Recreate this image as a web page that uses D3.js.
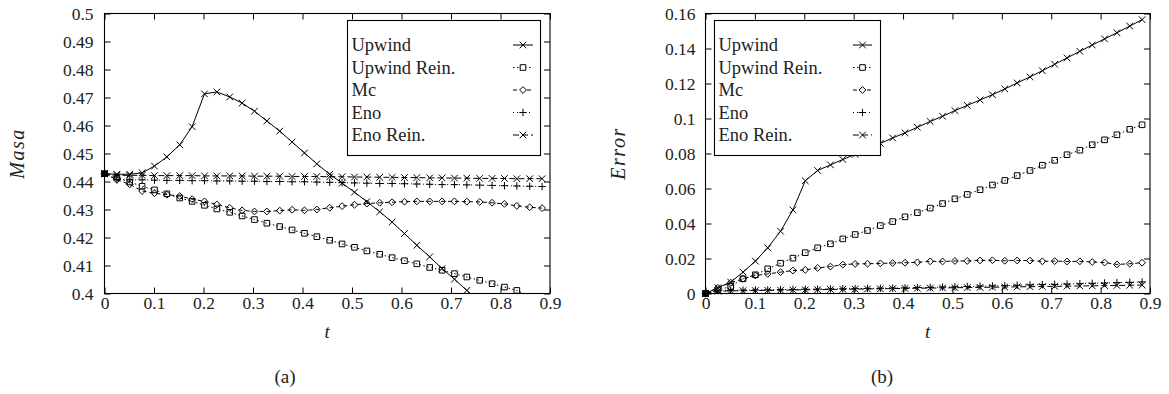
<!DOCTYPE html>
<html>
<head>
<meta charset="utf-8">
<script src="https://cdn.jsdelivr.net/npm/d3@7"></script>
<style>
  body { margin: 0; background: #fff; }
  svg text { font-family: "Liberation Serif", "Times New Roman", serif; fill: #222; }
</style>
</head>
<body>
<svg id="chart" width="1169" height="394"></svg>
<script>
// time samples (same for every series)
const times = [0, 0.025, 0.051, 0.076, 0.101, 0.126, 0.152, 0.177, 0.202, 0.227, 0.253, 0.278,
  0.303, 0.328, 0.354, 0.379, 0.404, 0.429, 0.455, 0.48, 0.505, 0.53, 0.556, 0.581,
  0.606, 0.631, 0.657, 0.682, 0.707, 0.732, 0.758, 0.783, 0.808, 0.833, 0.859, 0.884];

const seriesNames = ["Upwind", "Upwind Rein.", "Mc", "Eno", "Eno Rein."];

// (a) Masa
const masaUpwind = [0.4428, 0.4426, 0.4426, 0.4431, 0.4455, 0.4488, 0.4531, 0.4596, 0.4713, 0.4720, 0.4702, 0.4680,
  0.4651, 0.4616, 0.4580, 0.4541, 0.4502, 0.4463, 0.4426, 0.4394, 0.4362, 0.4328, 0.4292, 0.4255,
  0.4214, 0.4172, 0.4131, 0.4089, 0.4051, 0.4011, 0.3972, 0.3933, 0.3894, 0.3855, 0.3816, 0.3777];
const masaUpwindRein = [0.4428, 0.4415, 0.4398, 0.4383, 0.4370, 0.4356, 0.4341, 0.4329, 0.4315, 0.4302, 0.4290, 0.4277,
  0.4264, 0.4251, 0.4239, 0.4227, 0.4215, 0.4203, 0.4190, 0.4177, 0.4165, 0.4152, 0.4140, 0.4128,
  0.4117, 0.4106, 0.4093, 0.4083, 0.4071, 0.4059, 0.4047, 0.4035, 0.4023, 0.4011, 0.3988, 0.3976];
const masaMc = [0.4428, 0.4406, 0.4390, 0.4366, 0.4358, 0.4353, 0.4348, 0.4337, 0.4329, 0.4318, 0.4306, 0.4297,
  0.4293, 0.4293, 0.4296, 0.4299, 0.4297, 0.4300, 0.4306, 0.4312, 0.4317, 0.4321, 0.4324, 0.4326,
  0.4328, 0.4329, 0.4329, 0.4329, 0.4329, 0.4328, 0.4327, 0.4324, 0.4320, 0.4313, 0.4308, 0.4305];
const masaEno = [0.4428, 0.4407, 0.4406, 0.4406, 0.4405, 0.4404, 0.4404, 0.4403, 0.4403, 0.4402, 0.4402, 0.4401,
  0.4401, 0.4400, 0.4400, 0.4399, 0.4399, 0.4398, 0.4397, 0.4396, 0.4395, 0.4394, 0.4393, 0.4393,
  0.4392, 0.4391, 0.4390, 0.4389, 0.4389, 0.4388, 0.4387, 0.4386, 0.4385, 0.4384, 0.4383, 0.4382];
const masaEnoRein = [0.4428, 0.4422, 0.4422, 0.4422, 0.4421, 0.4421, 0.4421, 0.4421, 0.4420, 0.4420, 0.4420, 0.4420,
  0.4419, 0.4419, 0.4419, 0.4418, 0.4418, 0.4418, 0.4417, 0.4417, 0.4416, 0.4416, 0.4415, 0.4415,
  0.4414, 0.4414, 0.4413, 0.4413, 0.4412, 0.4412, 0.4411, 0.4411, 0.4411, 0.4410, 0.4410, 0.4410];

// (b) Error
const errUpwind = [0, 0.0033, 0.0065, 0.0122, 0.0185, 0.0261, 0.0356, 0.0478, 0.0644, 0.0703, 0.0735, 0.0766,
  0.0795, 0.0829, 0.0858, 0.0889, 0.0918, 0.0950, 0.0983, 0.1013, 0.1045, 0.1075, 0.1106, 0.1136,
  0.1169, 0.1203, 0.1238, 0.1273, 0.1310, 0.1346, 0.1384, 0.1420, 0.1455, 0.1490, 0.1528, 0.1565];
const errUpwindRein = [0, 0.0020, 0.0040, 0.0084, 0.0107, 0.0141, 0.0173, 0.0202, 0.0233, 0.0261, 0.0284, 0.0312,
  0.0337, 0.0360, 0.0388, 0.0411, 0.0438, 0.0462, 0.0488, 0.0514, 0.0541, 0.0566, 0.0593, 0.0620,
  0.0646, 0.0674, 0.0703, 0.0733, 0.0761, 0.0793, 0.0819, 0.0850, 0.0878, 0.0907, 0.0938, 0.0964];
const errMc = [0, 0.0033, 0.0062, 0.0084, 0.0103, 0.0112, 0.0122, 0.0131, 0.0135, 0.0146, 0.0154, 0.0165,
  0.0169, 0.0170, 0.0172, 0.0174, 0.0176, 0.0178, 0.0184, 0.0183, 0.0186, 0.0186, 0.0189, 0.0190,
  0.0187, 0.0189, 0.0188, 0.0184, 0.0185, 0.0183, 0.0184, 0.0180, 0.0177, 0.0166, 0.0170, 0.0176];
const errEno = [0, 0.0017, 0.0018, 0.0019, 0.0020, 0.0021, 0.0022, 0.0023, 0.0024, 0.0025, 0.0026, 0.0027,
  0.0028, 0.0029, 0.0030, 0.0031, 0.0032, 0.0034, 0.0035, 0.0037, 0.0038, 0.0040, 0.0042, 0.0043,
  0.0045, 0.0047, 0.0049, 0.0051, 0.0052, 0.0054, 0.0056, 0.0058, 0.0060, 0.0062, 0.0064, 0.0066];
const errEnoRein = [0, 0.0013, 0.0015, 0.0016, 0.0017, 0.0018, 0.0019, 0.0020, 0.0021, 0.0022, 0.0023, 0.0024,
  0.0025, 0.0026, 0.0027, 0.0028, 0.0029, 0.0030, 0.0031, 0.0032, 0.0033, 0.0034, 0.0035, 0.0036,
  0.0037, 0.0038, 0.0039, 0.0040, 0.0041, 0.0042, 0.0043, 0.0044, 0.0045, 0.0046, 0.0047, 0.0048];

const xTicks = [0, 0.1, 0.2, 0.3, 0.4, 0.5, 0.6, 0.7, 0.8, 0.9];
const masaTicks = [0.4, 0.41, 0.42, 0.43, 0.44, 0.45, 0.46, 0.47, 0.48, 0.49, 0.5];
const errTicks = [0, 0.02, 0.04, 0.06, 0.08, 0.1, 0.12, 0.14, 0.16];

// line style + marker per series
const styles = [
  { marker: "times", dash: null },
  { marker: "square", dash: "1.5,2.5" },
  { marker: "diamond", dash: "4,3" },
  { marker: "plus", dash: "1,3" },
  { marker: "times", dash: "6,3" }
];

function markerPath(type) {
  switch (type) {
    case "times": return "M-3.3,-3.3L3.3,3.3M-3.3,3.3L3.3,-3.3";
    case "plus": return "M-3.7,0L3.7,0M0,-3.7L0,3.7";
    case "square": return "M-2.8,-2.8H2.8V2.8H-2.8Z";
    case "diamond": return "M0,-3.4L3.4,0L0,3.4L-3.4,0Z";
  }
}

const svg = d3.select("#chart");
const fmt = d => String(+d.toFixed(2));

function drawPanel(cfg) {
  const { left, right, top, bottom } = cfg;
  const g = svg.append("g");

  const x = d3.scaleLinear().domain([0, 0.9]).range([left, right]);
  const y = d3.scaleLinear().domain(cfg.yDomain).range([bottom, top]);

  const clipId = "clip-" + cfg.id;
  g.append("clipPath").attr("id", clipId)
    .append("rect")
    .attr("x", left).attr("y", top)
    .attr("width", right - left).attr("height", bottom - top);

  // axes, ticks pointing inwards, mirrored on top/right
  const tk = 6;
  g.append("g").attr("transform", `translate(0,${bottom})`)
    .call(d3.axisBottom(x).tickValues(xTicks).tickSize(-tk).tickPadding(3).tickFormat(fmt));
  g.append("g").attr("transform", `translate(0,${top})`)
    .call(d3.axisTop(x).tickValues(xTicks).tickSize(-tk).tickFormat(""));
  g.append("g").attr("transform", `translate(${left},0)`)
    .call(d3.axisLeft(y).tickValues(cfg.yTicks).tickSize(-tk).tickPadding(cfg.yPad).tickFormat(fmt));
  g.append("g").attr("transform", `translate(${right},0)`)
    .call(d3.axisRight(y).tickValues(cfg.yTicks).tickSize(-tk).tickFormat(""));

  g.selectAll(".domain").remove();
  g.selectAll(".tick line").attr("stroke", "#000");
  g.selectAll(".tick text")
    .style("font-family", '"Liberation Serif", serif')
    .style("font-size", "17.5px")
    .attr("fill", "#222");

  g.append("rect")
    .attr("x", left).attr("y", top)
    .attr("width", right - left).attr("height", bottom - top)
    .attr("fill", "none").attr("stroke", "#000").attr("stroke-width", 1.1);

  // series
  cfg.series.forEach((vals, si) => {
    const st = styles[si];
    const pts = times.map((t, i) => ({ t: t, v: vals[i], i: i }));
    const line = d3.line().x(d => x(d.t)).y(d => y(d.v));
    g.append("path")
      .datum(pts)
      .attr("clip-path", `url(#${clipId})`)
      .attr("d", line)
      .attr("fill", "none")
      .attr("stroke", "#000")
      .attr("stroke-width", 1)
      .attr("stroke-dasharray", st.dash);

    g.selectAll(null)
      .data(pts.filter(d => d.v >= cfg.yDomain[0] && d.v <= cfg.yDomain[1]))
      .enter()
      .append("path")
      .attr("transform", d => `translate(${x(d.t)},${y(d.v)})`)
      .attr("d", markerPath(st.marker))
      .attr("fill", d => (st.marker === "square" && d.i === 0) ? "#000" : "#fff")
      .attr("fill-opacity", d => (st.marker === "square" && d.i === 0) ? 1 : 0)
      .attr("stroke", "#000")
      .attr("stroke-width", 1);
  });

  // legend
  const lg = cfg.legend;
  g.append("rect")
    .attr("x", lg.x).attr("y", lg.y)
    .attr("width", lg.w).attr("height", lg.h)
    .attr("fill", "#fff").attr("stroke", "#000").attr("stroke-width", 1.1);

  seriesNames.forEach((name, i) => {
    const cy = lg.y + 24.5 + i * 22.5;
    const st = styles[i];
    g.append("text")
      .attr("x", lg.x + 4)
      .attr("y", cy + 6)
      .style("font-size", "18.5px")
      .text(name);
    g.append("line")
      .attr("x1", lg.sx0).attr("x2", lg.sx1)
      .attr("y1", cy).attr("y2", cy)
      .attr("stroke", "#000")
      .attr("stroke-width", 1)
      .attr("stroke-dasharray", st.dash);
    g.append("path")
      .attr("transform", `translate(${(lg.sx0 + lg.sx1) / 2},${cy})`)
      .attr("d", markerPath(st.marker))
      .attr("fill", "#fff")
      .attr("stroke", "#000")
      .attr("stroke-width", 1);
  });

  // axis labels
  g.append("text")
    .attr("transform", `translate(${cfg.yLabelX},${(top + bottom) / 2}) rotate(-90)`)
    .attr("text-anchor", "middle")
    .style("font-size", "20px")
    .style("font-style", "italic")
    .style("letter-spacing", "1.5px")
    .text(cfg.yLabel);

  g.append("text")
    .attr("x", (left + right) / 2)
    .attr("y", 338)
    .attr("text-anchor", "middle")
    .style("font-size", "19px")
    .style("font-style", "italic")
    .text("t");

  g.append("text")
    .attr("x", cfg.captionX)
    .attr("y", 383)
    .attr("text-anchor", "middle")
    .style("font-size", "19px")
    .text(cfg.caption);
}

drawPanel({
  id: "a", left: 104.5, right: 550, top: 13.5, bottom: 293.5,
  yDomain: [0.4, 0.5], yTicks: masaTicks, yPad: 11,
  series: [masaUpwind, masaUpwindRein, masaMc, masaEno, masaEnoRein],
  legend: { x: 347.5, y: 20.5, w: 193, h: 135, sx0: 513, sx1: 533 },
  yLabel: "Masa", yLabelX: 24, caption: "(a)", captionX: 285
});

drawPanel({
  id: "b", left: 705.5, right: 1150, top: 13.5, bottom: 293.5,
  yDomain: [0, 0.16], yTicks: errTicks, yPad: 10,
  series: [errUpwind, errUpwindRein, errMc, errEno, errEnoRein],
  legend: { x: 714.5, y: 20.5, w: 166, h: 135, sx0: 853, sx1: 872 },
  yLabel: "Error", yLabelX: 625, caption: "(b)", captionX: 882
});
</script>
</body>
</html>
